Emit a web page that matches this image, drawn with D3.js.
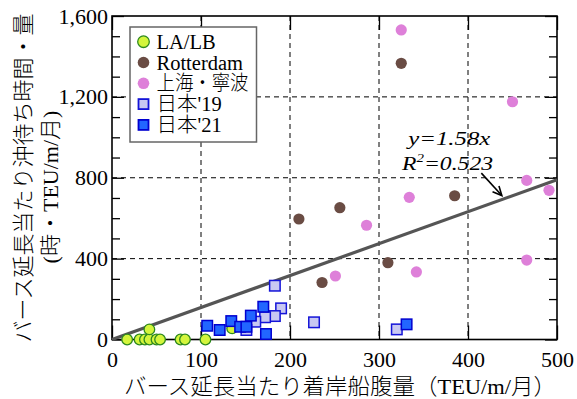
<!DOCTYPE html>
<html>
<head>
<meta charset="utf-8">
<script src="https://cdn.jsdelivr.net/npm/d3@7"></script>
<style>
  html, body { margin: 0; padding: 0; background: #fff; }
  svg { display: block; }
</style>
</head>
<body>
<svg id="chart" width="577" height="399"></svg>
<script>
// Berth-length-normalised calls (x) vs. anchorage waiting (y)
const laLbX = [17, 31, 37, 42, 50, 54, 77, 82, 105, 42, 135];
const laLbY = [0, 0, 0, 0, 0, 0, 0, 0, 0, 50, 55];

const rotterdamX = [325, 385, 256, 210, 310, 236];
const rotterdamY = [1366, 711, 652, 596, 380, 282];

const shanghaiX = [325, 450, 466, 491, 334, 286, 466, 342, 251];
const shanghaiY = [1531, 1176, 787, 738, 703, 565, 393, 334, 314];

const japan19X = [183, 190, 183, 172, 161, 151, 227, 320];
const japan19Y = [266, 154, 116, 110, 88, 47, 85, 50];

const japan21X = [107, 121, 134, 144, 151, 156, 170, 173, 331];
const japan21Y = [68, 47, 91, 63, 63, 118, 162, 27, 75];

const xTicks = [0, 100, 200, 300, 400, 500];
const yTicks = [0, 400, 800, 1200, 1600];
const yMinorTicks = [100, 200, 300, 500, 600, 700, 900, 1000, 1100, 1300, 1400, 1500];

const slope = 1.58;
const eqLabel = "y=1.58x";
const r2Value = "0.523";

const seriesNames = ["LA/LB", "Rotterdam", "上海・寧波", "日本'19", "日本'21"];

const svg = d3.select("#chart");
const plotL = 112, plotR = 557, plotT = 16, plotB = 339.5;

const x = d3.scaleLinear().domain([0, 500]).range([plotL, plotR]);
const y = d3.scaleLinear().domain([0, 1600]).range([plotB, plotT]);

const serif = "'Liberation Serif','Times New Roman',serif";
const jp = "'Liberation Serif','Noto Sans CJK JP',serif";

// dashed grid
const grid = svg.append("g").attr("stroke", "#000").attr("stroke-width", 1)
  .attr("stroke-dasharray", "5,4");
grid.selectAll("line.v").data(xTicks.slice(1, -1)).join("line").attr("class", "v")
  .attr("x1", d => x(d)).attr("x2", d => x(d)).attr("y1", plotT).attr("y2", plotB);
grid.selectAll("line.h").data(yTicks.slice(1, -1)).join("line").attr("class", "h")
  .attr("x1", plotL).attr("x2", plotR).attr("y1", d => y(d)).attr("y2", d => y(d));

// axes with inward ticks
function styleAxis(g) {
  g.select(".domain").remove();
  g.selectAll(".tick line").attr("stroke", "#000").attr("stroke-width", 1.3);
  g.selectAll(".tick text").attr("font-family", serif).attr("font-size", 22).attr("fill", "#000");
}
svg.append("g").attr("transform", `translate(0,${plotB})`)
  .call(d3.axisBottom(x).tickValues(xTicks).tickSizeInner(-14).tickSizeOuter(0).tickPadding(12).tickFormat(d3.format("d")))
  .call(styleAxis);
svg.append("g").attr("transform", `translate(0,${plotT})`)
  .call(d3.axisTop(x).tickValues(xTicks).tickSizeInner(-14).tickSizeOuter(0).tickFormat(""))
  .call(styleAxis);
svg.append("g").attr("transform", `translate(${plotL},0)`)
  .call(d3.axisLeft(y).tickValues(yTicks).tickSizeInner(-12).tickSizeOuter(0).tickPadding(4).tickFormat(d3.format(",")))
  .call(styleAxis);
svg.append("g").attr("transform", `translate(${plotL},0)`)
  .call(d3.axisLeft(y).tickValues(yMinorTicks).tickSizeInner(-8).tickSizeOuter(0).tickFormat(""))
  .call(styleAxis);
svg.append("g").attr("transform", `translate(${plotR},0)`)
  .call(d3.axisRight(y).tickValues(yTicks).tickSizeInner(-12).tickSizeOuter(0).tickFormat(""))
  .call(styleAxis);
svg.append("g").attr("transform", `translate(${plotR},0)`)
  .call(d3.axisRight(y).tickValues(yMinorTicks).tickSizeInner(-8).tickSizeOuter(0).tickFormat(""))
  .call(styleAxis);

// plot frame
svg.append("rect").attr("x", plotL).attr("y", plotT).attr("width", plotR - plotL).attr("height", plotB - plotT)
  .attr("fill", "none").attr("stroke", "#000").attr("stroke-width", 1.6);

// regression line y = 1.58x
svg.append("line")
  .attr("x1", x(0)).attr("y1", y(0)).attr("x2", x(500)).attr("y2", y(slope * 500))
  .attr("stroke", "#555").attr("stroke-width", 3.2);

// markers
const zip = (xs, ys) => xs.map((v, i) => [v, ys[i]]);
const styles = {
  laLb: { fill: "#d4f53c", stroke: "#2e8a1e", sw: 1.3 },
  rot: { fill: "#6a4c44", stroke: "none", sw: 0 },
  sha: { fill: "#de80d9", stroke: "none", sw: 0 },
  j19: { fill: "#c8c8f2", stroke: "#1414d8", sw: 1.5 },
  j21: { fill: "#2266ff", stroke: "#0000d0", sw: 1.5 }
};
function circles(data, st, r) {
  svg.append("g").selectAll("circle").data(data).join("circle")
    .attr("cx", d => x(d[0])).attr("cy", d => y(d[1])).attr("r", r)
    .attr("fill", st.fill).attr("stroke", st.stroke).attr("stroke-width", st.sw);
}
function squares(data, st, s) {
  svg.append("g").selectAll("rect").data(data).join("rect")
    .attr("x", d => x(d[0]) - s / 2).attr("y", d => y(d[1]) - s / 2)
    .attr("width", s).attr("height", s)
    .attr("fill", st.fill).attr("stroke", st.stroke).attr("stroke-width", st.sw);
}
circles(zip(laLbX, laLbY), styles.laLb, 5.3);
circles(zip(rotterdamX, rotterdamY), styles.rot, 5.6);
circles(zip(shanghaiX, shanghaiY), styles.sha, 5.6);
squares(zip(japan19X, japan19Y), styles.j19, 10.5);
squares(zip(japan21X, japan21Y), styles.j21, 10.5);

// regression annotation
const ann = svg.append("g").attr("font-family", serif).attr("font-style", "italic").attr("font-size", 19).attr("fill", "#000");
ann.append("text").attr("x", x(379)).attr("y", y(962)).attr("text-anchor", "middle")
  .attr("textLength", 82).attr("lengthAdjust", "spacingAndGlyphs").text(eqLabel);
const r2 = ann.append("text").attr("x", x(377)).attr("y", y(838)).attr("text-anchor", "middle")
  .attr("textLength", 91).attr("lengthAdjust", "spacingAndGlyphs");
r2.append("tspan").text("R");
r2.append("tspan").attr("font-size", 12).attr("dy", -8).text("2");
r2.append("tspan").attr("dy", 8).text("=" + r2Value);

const tail = [x(415), y(823)], tip = [x(438), y(slope * 438 + 20)];
svg.append("line").attr("x1", tail[0]).attr("y1", tail[1]).attr("x2", tip[0]).attr("y2", tip[1])
  .attr("stroke", "#000").attr("stroke-width", 1.6);
const ang = Math.atan2(tip[1] - tail[1], tip[0] - tail[0]);
const ah = 10, spread = 0.45;
svg.append("path")
  .attr("d", `M${tip[0] - ah * Math.cos(ang - spread)},${tip[1] - ah * Math.sin(ang - spread)}L${tip[0]},${tip[1]}L${tip[0] - ah * Math.cos(ang + spread)},${tip[1] - ah * Math.sin(ang + spread)}`)
  .attr("fill", "none").attr("stroke", "#000").attr("stroke-width", 1.6);

// legend
const lg = svg.append("g");
lg.append("rect").attr("x", 130).attr("y", 27).attr("width", 126.5).attr("height", 115)
  .attr("fill", "#fff").attr("stroke", "#666").attr("stroke-width", 1.5);
const legendKeys = ["laLb", "rot", "sha", "j19", "j21"];
legendKeys.forEach((k, i) => {
  const cy = 41.7 + i * 20.8;
  const st = styles[k];
  if (i < 3) {
    lg.append("circle").attr("cx", 143.5).attr("cy", cy).attr("r", 5.8)
      .attr("fill", st.fill).attr("stroke", st.stroke).attr("stroke-width", st.sw);
  } else {
    lg.append("rect").attr("x", 143.5 - 5).attr("y", cy - 5).attr("width", 10).attr("height", 10)
      .attr("fill", st.fill).attr("stroke", st.stroke).attr("stroke-width", 1.8);
  }
  const t = lg.append("text").attr("x", 156.5).attr("y", cy + 7)
    .attr("font-family", jp).attr("font-size", 20.5).attr("fill", "#000").text(seriesNames[i]);
  if (i === 2) t.attr("textLength", 92).attr("lengthAdjust", "spacingAndGlyphs").attr("font-weight", 300);
  if (i >= 3) t.attr("font-weight", 300);
});

// axis titles
svg.append("text").attr("x", 340).attr("y", 394).attr("text-anchor", "middle")
  .attr("font-family", jp).attr("font-size", 22).attr("font-weight", 300).attr("fill", "#000")
  .attr("textLength", 432).attr("lengthAdjust", "spacingAndGlyphs")
  .text("バース延長当たり着岸船腹量（TEU/m/月）");
const yt = svg.append("g").attr("font-family", jp).attr("font-size", 22).attr("font-weight", 300)
  .attr("fill", "#000").attr("text-anchor", "middle");
yt.append("text").attr("transform", "translate(23,178) rotate(-90)").attr("dy", "0.35em")
  .text("バース延長当たり沖待ち時間・量");
yt.append("text").attr("transform", "translate(50,187) rotate(-90)").attr("dy", "0.35em")
  .text("(時・TEU/m/月)");
</script>
</body>
</html>
